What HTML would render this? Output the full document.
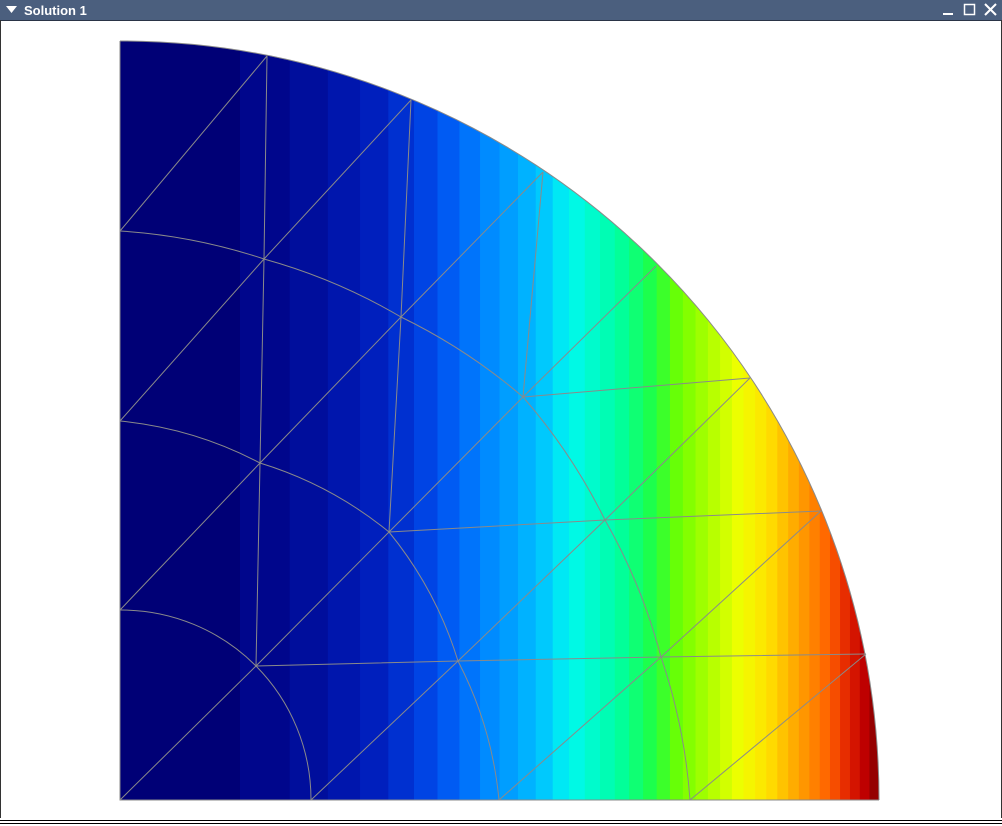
<!DOCTYPE html>
<html><head><meta charset="utf-8"><style>
html,body{margin:0;padding:0;background:#fff;width:1002px;height:826px;overflow:hidden;font-family:"Liberation Sans",sans-serif}
#bar{position:absolute;left:0;top:0;width:1002px;height:20px;background:#4b5f7e;border-bottom:1px solid #2a3446}
#title{position:absolute;left:24px;top:3px;color:#fff;font-weight:bold;font-size:13px}
#frame{position:absolute;left:0;top:20px;width:1000px;height:798px;border-left:1px solid #333;border-right:1px solid #333}
#bot{position:absolute;left:0;top:820px;width:1002px;height:2px;border-top:1px solid #000;border-bottom:1px solid #000}
</style></head><body>
<div id="bar">
<svg style="position:absolute;left:6px;top:6px" width="12" height="8"><polygon points="0,0 11,0 5.5,7" fill="#fff"/></svg>
<span id="title">Solution 1</span>
<svg style="position:absolute;left:940px;top:3px" width="60" height="14">
<rect x="3" y="10" width="10" height="2" fill="#fff"/>
<rect x="24.5" y="1.5" width="10" height="10" fill="none" stroke="#fff" stroke-width="1.5"/>
<g stroke="#fff" stroke-width="2"><line x1="45" y1="1" x2="56" y2="12"/><line x1="56" y1="1" x2="45" y2="12"/></g>
</svg></div>
<div id="frame"></div>
<div id="bot"></div>
<svg id="plot" style="position:absolute;left:0;top:0" width="1002" height="826">
<defs><clipPath id="qc"><path d="M120,800 L120,41 A759,759 0 0 1 879,800 Z"/></clipPath></defs>
<g id="bands" clip-path="url(#qc)"></g>
<g id="mesh" fill="none" stroke="#8a8a8a" stroke-width="1"></g>
</svg>
<script>
// colormap stops: field value -> color
const stopValues=[0,0.02,0.117,0.177,0.224,0.305,0.351,0.433,0.496,0.543,0.666,0.731,0.801,0.873,0.923,0.961,1];
const stopColors=["#000066","#000080","#0020c0","#0050f0","#0080ff","#00c0ff","#00f8f0","#00ffa0","#20ff40","#70ff00","#f0ff00","#ffe000","#ffa000","#ff6000","#e02000","#c00000","#800000"];
const levelCount=[40];
// mesh rings: nodes along each curved ring
const ringRadii=[190,380,570];
const ringNodes=[
 [[120,610],[256,666],[311,800]],
 [[120,421],[260,463],[389,532],[458,661],[499,800]],
 [[120,231],[264,259],[401,317],[523,397],[605,520],[661,657],[690,800]]
];
const meshEdges=[
 [[267,56],[264,259],[260,463],[256,666]],[[411,100],[401,317],[389,532]],[[543,172],[523,397]],
 [[523,397],[750,378]],[[389,532],[605,520],[821,511]],[[256,666],[458,661],[661,657],[866,654]],
 [[120,231],[267,56]],[[120,421],[264,259],[411,100]],[[120,610],[260,463],[401,317],[543,172]],
 [[120,800],[256,666],[389,532],[523,397],[656,266]],[[311,800],[458,661],[605,520],[750,378]],
 [[499,800],[661,657],[821,511]],[[690,800],[866,654]]
];
const X0=120,Y0=800,R=759;
const ns="http://www.w3.org/2000/svg";
function hex(c){return [1,3,5].map(i=>parseInt(c.substr(i,2),16));}
function cmap(v){for(let i=1;i<stopValues.length;i++){if(v<=stopValues[i]){const f=(v-stopValues[i-1])/(stopValues[i]-stopValues[i-1]);const a=hex(stopColors[i-1]),b=hex(stopColors[i]);return "rgb("+a.map((x,k)=>Math.round(x+(b[k]-x)*f)).join(",")+")";}}return stopColors[stopColors.length-1];}
function xOf(v){return X0+R*Math.sqrt(v);}
const bands=document.getElementById('bands');
const N=levelCount[0];
for(let i=0;i<N;i++){
 const v0=i/N,v1=(i+1)/N;
 const r=document.createElementNS(ns,'rect');
 
 
 const x0=xOf(v0),x1=xOf(v1);
 r.setAttribute('x',x0);r.setAttribute('y',30);r.setAttribute('width',x1-x0+0.6);r.setAttribute('height',780);
 r.setAttribute('fill',cmap((v0+v1)/2));bands.appendChild(r);
}
const mesh=document.getElementById('mesh');
ringNodes.forEach((nodes,k)=>{
 const r=ringRadii[k];
 let d=`M${nodes[0][0]},${nodes[0][1]}`;
 for(let i=1;i<nodes.length;i++)d+=` A${r},${r} 0 0 1 ${nodes[i][0]},${nodes[i][1]}`;
 const p=document.createElementNS(ns,'path');
 
 
 p.setAttribute('d',d);mesh.appendChild(p);
});
const outer=document.createElementNS(ns,'path');


outer.setAttribute('d',`M${X0},${Y0-R} A${R},${R} 0 0 1 ${X0+R},${Y0}`);mesh.appendChild(outer);
meshEdges.forEach(e=>{
 const p=document.createElementNS(ns,'polyline');
 
 
 p.setAttribute('points',e.map(q=>q.join(',')).join(' '));mesh.appendChild(p);
});
const b=document.createElementNS(ns,'path');


b.setAttribute('d',`M${X0+R},${Y0} L${X0},${Y0} L${X0},${Y0-R}`);mesh.appendChild(b);
</script>
</body></html>
